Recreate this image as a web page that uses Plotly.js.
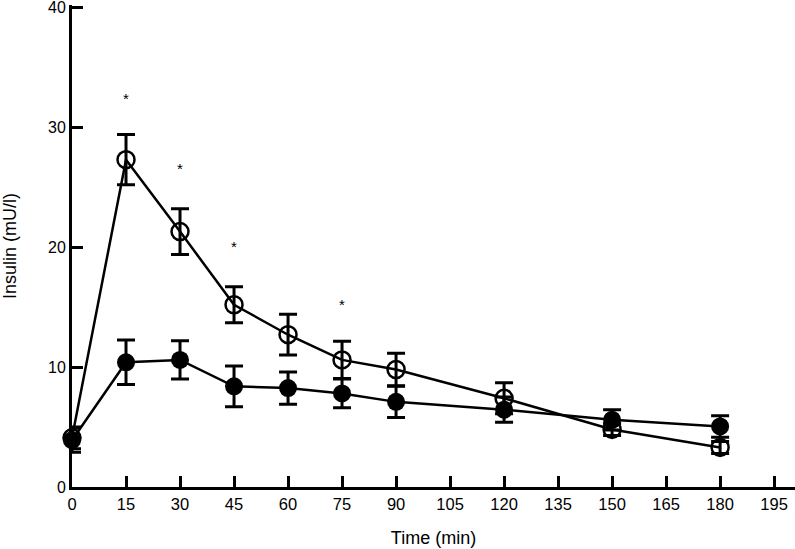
<!DOCTYPE html>
<html><head><meta charset="utf-8">
<script src="https://cdn.plot.ly/plotly-3.0.1.min.js"></script>
<style>html,body{margin:0;padding:0;background:#fff}#chart{width:795px;height:549px}</style>
</head><body><div id="chart"></div>
<script>
const times = [0, 15, 30, 45, 60, 75, 90, 120, 150, 180];
const openMean = [4.1, 27.3, 21.3, 15.2, 12.7, 10.6, 9.8, 7.4, 4.8, 3.3];
const openErr  = [0.9, 2.1, 1.9, 1.5, 1.7, 1.55, 1.35, 1.3, 0.5, 0.5];
const filledMean = [3.9, 10.4, 10.6, 8.4, 8.25, 7.8, 7.1, 6.45, 5.6, 5.05];
const filledErr  = [1.0, 1.85, 1.6, 1.7, 1.35, 1.2, 1.3, 1.05, 0.85, 0.9];
const starTimes = [15, 30, 45, 75];
const starY = [32.4, 26.6, 20.1, 15.2];
const xTicks = [0,15,30,45,60,75,90,105,120,135,150,165,180,195];
const yTicks = [0,10,20,30,40];

const font = "Liberation Sans, Arial, sans-serif";
const traces = [
  {x: times, y: openMean, type: 'scatter', mode: 'lines+markers', cliponaxis: false,
   line: {color: '#000', width: 2.5},
   marker: {symbol: 'circle', size: 17, color: 'rgba(0,0,0,0)', line: {color: '#000', width: 2.5}},
   error_y: {type: 'data', array: openErr, visible: true, color: '#000', thickness: 3, width: 9}},
  {x: times, y: filledMean, type: 'scatter', mode: 'lines+markers', cliponaxis: false,
   line: {color: '#000', width: 2.5},
   marker: {symbol: 'circle', size: 18, color: '#000', line: {color: '#000', width: 0}},
   error_y: {type: 'data', array: filledErr, visible: true, color: '#000', thickness: 3, width: 9}}
];
const annotations = starTimes.map((t, i) => ({x: t, y: starY[i], xref: 'x', yref: 'y', text: '*', showarrow: false, font: {family: font, size: 15, color: '#000'}}));
const layout = {
  width: 795, height: 549,
  margin: {l: 72, r: 0, t: 5, b: 61.5},
  paper_bgcolor: '#fff', plot_bgcolor: '#fff',
  showlegend: false,
  font: {family: font, color: '#000'},
  xaxis: {range: [0, 200.8], tickvals: xTicks, ticktext: xTicks.map(String), ticks: 'inside', ticklen: 11, tickwidth: 3, tickcolor: '#000',
    showline: true, linewidth: 3, linecolor: '#000', showgrid: false, zeroline: false, tickfont: {size: 16.5, family: font},
    title: {text: 'Time (min)', font: {size: 18, family: font}, standoff: 20}},
  yaxis: {range: [0, 40.2], tickvals: yTicks, ticktext: yTicks.map(String), ticks: 'inside', ticklen: 11, tickwidth: 3, tickcolor: '#000',
    showline: true, linewidth: 3, linecolor: '#000', showgrid: false, zeroline: false, tickfont: {size: 16, family: font},
    ticklabeloverflow: 'allow',
    title: {text: 'Insulin (mU/l)', font: {size: 18, family: font}, standoff: 30}},
  annotations: annotations
};
Plotly.newPlot('chart', traces, layout, {displayModeBar: false, staticPlot: true});
</script></body></html>
